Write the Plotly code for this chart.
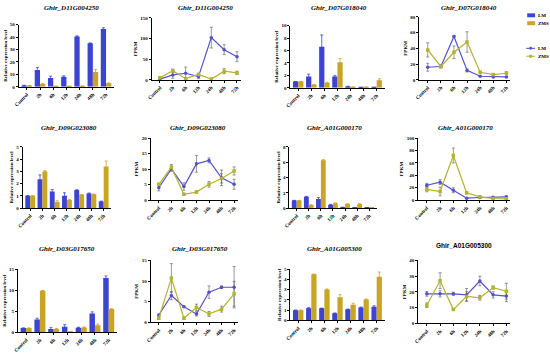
import plotly.graph_objects as go

categories = ["Control", "2h", "6h", "12h", "24h", "48h", "72h"]

titles = ["Ghir_D11G004250", "Ghir_D11G004250", "Ghir_D07G018040", "Ghir_D07G018040",
          "Ghir_D09G023080", "Ghir_D09G023080", "Ghir_A01G000170", "Ghir_A01G000170",
          "Ghir_D03G017650", "Ghir_D03G017650", "Ghir_A01G005300", "Ghir_A01G005300"]

legend_names = ["LM", "ZMS"]

# Panel 1: D11G004250 qRT-PCR (bars)
p1_lm = [1, 13.5, 7, 8, 40.5, 35, 46.5]
p1_lm_err = [0.2, 2, 1.5, 0.8, 0.5, 0.3, 1]
p1_zms = [1, 2.3, 0.3, 0.3, 0.5, 12, 2.8]
p1_zms_err = [0.1, 0.3, 0.1, 0.1, 0.1, 2, 0.3]
# Panel 2: D11G004250 FPKM (lines)
p2_lm = [2, 12, 16, 8, 102, 73, 56]
p2_lm_err = [2, 8, 15, 5, 25, 12, 12]
p2_zms = [5, 22, 3, 13, 2, 21, 17]
p2_zms_err = [2, 4, 2, 3, 1, 6, 4]
# Panel 3: D07G018040 qRT-PCR
p3_lm = [1, 1.8, 6.6, 1.8, 0.2, 0.05, 0.05]
p3_lm_err = [0, 0.4, 1.9, 0.15, 0.05, 0, 0]
p3_zms = [1, 0.5, 0.8, 4.1, 0.1, 0.1, 1.2]
p3_zms_err = [0, 0.05, 0.1, 0.6, 0, 0, 0.25]
# Panel 4: D07G018040 FPKM
p4_lm = [16, 17, 55, 12, 4.6, 3.8, 3.8]
p4_lm_err = [5, 2, 1, 2, 0.5, 0.5, 0.5]
p4_zms = [38, 17, 35, 48, 9.6, 6.7, 8.4]
p4_zms_err = [9, 1, 8, 13, 1, 1, 2]
# Panel 5: D09G023080 qRT-PCR
p5_lm = [1, 2.36, 1.36, 1.0, 1.47, 1.2, 0.54]
p5_lm_err = [0, 0.35, 0.15, 0.25, 0.02, 0.03, 0.03]
p5_zms = [1, 3.0, 0.5, 0.65, 1.08, 1.12, 3.4]
p5_zms_err = [0, 0.05, 0.1, 0.05, 0.03, 0.03, 0.45]
# Panel 6: D09G023080 FPKM
p6_lm = [4.0, 10.1, 4.4, 11.7, 12.8, 7.2, 5.1]
p6_lm_err = [1, 0.8, 1.2, 2.7, 0.8, 2.5, 1.6]
p6_zms = [5.1, 10.6, 1.9, 2.6, 5.1, 7.0, 9.4]
p6_zms_err = [0.3, 0.9, 0.3, 0.4, 0.9, 1.5, 1.3]
# Panel 7: A01G000170 qRT-PCR
p7_lm = [1, 1.48, 1.17, 0.43, 0.1, 0.08, 0.05]
p7_lm_err = [0, 0.05, 0.2, 0.05, 0, 0, 0]
p7_zms = [1, 0.4, 6.26, 0.62, 0.52, 0.52, 0.02]
p7_zms_err = [0, 0.05, 0.1, 0.05, 0.05, 0.05, 0]
# Panel 8: A01G000170 FPKM
p8_lm = [24, 29, 16, 3.2, 4.3, 4.8, 5.3]
p8_lm_err = [3, 4, 4, 1, 1, 1, 2]
p8_zms = [17.5, 14, 72, 12, 5.3, 2.7, 2.1]
p8_zms_err = [4, 7, 12, 2, 2, 1, 1]
# Panel 9: D03G017650 qRT-PCR
p9_lm = [1, 3.05, 0.8, 1.3, 1.1, 4.45, 12.9]
p9_lm_err = [0, 0.3, 0.3, 0.5, 0.1, 0.4, 0.5]
p9_zms = [1, 9.9, 0.8, 0.1, 1.15, 1.65, 5.55]
p9_zms_err = [0, 0, 0.1, 0, 0.1, 0.3, 0]
# Panel 10: D03G017650 FPKM
p10_lm = [1.8, 6.5, 3.8, 2.05, 7.3, 8.5, 8.5]
p10_lm_err = [0.2, 1, 0.2, 0.5, 1.5, 0.3, 5]
p10_zms = [1.0, 10.7, 1.0, 3.6, 2.05, 3.2, 6.9]
p10_zms_err = [0.3, 3.5, 0.3, 0.8, 0.6, 0.7, 3]
# Panel 11: A01G005300 qRT-PCR
p11_lm = [1, 1.2, 1.18, 0.7, 1.08, 1.27, 1.33]
p11_lm_err = [0, 0.05, 0.03, 0.03, 0.03, 0.03, 0.1]
p11_zms = [1, 4.5, 3.02, 2.26, 1.53, 2.04, 4.27]
p11_zms_err = [0, 0.03, 0.05, 0.25, 0.15, 0.05, 0.45]
# Panel 12: A01G005300 FPKM
p12_lm = [18.75, 18.75, 18.75, 18.1, 26.9, 18.1, 17.3]
p12_lm_err = [1.5, 2, 1, 4, 3, 2, 3.5]
p12_zms = [11.5, 27.1, 8.75, 17.1, 16.25, 22.7, 20.4]
p12_zms_err = [1.5, 5, 0.5, 3, 1.5, 1, 5]

y_max = [50, 150, 10, 80, 5, 20, 8, 100, 15, 15, 5, 40]
y_dtick = [10, 50, 2, 20, 1, 5, 2, 20, 5, 5, 1, 10]

panels = [
    (p1_lm, p1_lm_err, p1_zms, p1_zms_err), (p2_lm, p2_lm_err, p2_zms, p2_zms_err),
    (p3_lm, p3_lm_err, p3_zms, p3_zms_err), (p4_lm, p4_lm_err, p4_zms, p4_zms_err),
    (p5_lm, p5_lm_err, p5_zms, p5_zms_err), (p6_lm, p6_lm_err, p6_zms, p6_zms_err),
    (p7_lm, p7_lm_err, p7_zms, p7_zms_err), (p8_lm, p8_lm_err, p8_zms, p8_zms_err),
    (p9_lm, p9_lm_err, p9_zms, p9_zms_err), (p10_lm, p10_lm_err, p10_zms, p10_zms_err),
    (p11_lm, p11_lm_err, p11_zms, p11_zms_err), (p12_lm, p12_lm_err, p12_zms, p12_zms_err),
]

W, H = 550, 355
# pixel boxes: x0, x1, ytop, ybottom
boxes = [
    (14, 110, 23, 86), (148, 238, 16, 79), (288, 383, 24, 87), (418, 510, 15, 79),
    (18, 107, 147, 209), (147, 235, 138, 201), (287, 375, 147, 209), (417, 510, 138, 201),
    (13, 113, 271, 335), (147, 235, 262, 325), (288, 383, 271, 323), (417, 510, 262, 326),
]
title_pos = [(67, 6), (202, 6), (337, 6), (468, 6),
             (65, 128), (195, 128), (333, 128), (465, 128),
             (63, 251), (197, 251), (333, 251), (463, 247)]

BAR_LM = "#3d44d2"
BAR_ZMS = "#c9a524"
LINE_LM = "#5252cc"
LINE_ZMS = "#b5b32c"
FONT = "Liberation Serif"

fig = go.Figure()
layout = {}
annotations = []
shapes = []
for i, (lm, lme, zm, zme) in enumerate(panels):
    n = i + 1
    xa = "x" if n == 1 else f"x{n}"
    ya = "y" if n == 1 else f"y{n}"
    is_bar = (i % 2 == 0)
    if is_bar:
        fig.add_trace(go.Bar(x=categories, y=lm, xaxis=xa, yaxis=ya, name="LM",
                             marker=dict(color=BAR_LM, line=dict(width=0)),
                             error_y=dict(type="data", array=lme, color=BAR_LM, thickness=0.8, width=1.5),
                             offsetgroup="lm", showlegend=False))
        fig.add_trace(go.Bar(x=categories, y=zm, xaxis=xa, yaxis=ya, name="ZMS",
                             marker=dict(color=BAR_ZMS, line=dict(width=0)),
                             error_y=dict(type="data", array=zme, color=BAR_ZMS, thickness=0.8, width=1.5),
                             offsetgroup="zms", showlegend=False))
    else:
        fig.add_trace(go.Scatter(x=categories, y=lm, xaxis=xa, yaxis=ya, name="LM",
                                 mode="lines+markers",
                                 line=dict(color=LINE_LM, width=1.2),
                                 marker=dict(color=LINE_LM, size=3.5, symbol="circle"),
                                 error_y=dict(type="data", array=lme, color="#555555", thickness=0.6, width=1.5),
                                 showlegend=False))
        fig.add_trace(go.Scatter(x=categories, y=zm, xaxis=xa, yaxis=ya, name="ZMS",
                                 mode="lines+markers",
                                 line=dict(color=LINE_ZMS, width=1.2),
                                 marker=dict(color=LINE_ZMS, size=3.5, symbol="square"),
                                 error_y=dict(type="data", array=zme, color="#555555", thickness=0.6, width=1.5),
                                 showlegend=False))
    x0, x1, yt, yb = boxes[i]
    key = "" if n == 1 else str(n)
    layout["xaxis" + key] = dict(
        domain=[x0 / W, x1 / W], anchor=ya, type="category",
        range=[-0.6, 6.6] if is_bar else [-0.65, 6.3],
        showline=True, linecolor="black", linewidth=1, ticks="outside", ticklen=2,
        tickcolor="black", tickangle=-45, tickfont=dict(family=FONT, size=5, color="black", weight="bold"),
        showgrid=False, zeroline=False, fixedrange=True)
    layout["yaxis" + key] = dict(
        domain=[1 - yb / H, 1 - yt / H], anchor=xa, range=[0, y_max[i]], dtick=y_dtick[i],
        showline=True, linecolor="black", linewidth=1, ticks="outside", ticklen=2,
        tickcolor="black", tickfont=dict(family=FONT, size=5, color="black", weight="bold"),
        showgrid=False, zeroline=False,
        title=dict(text="Relative expression level" if is_bar else "FPKM",
                   font=dict(family=FONT, size=5, color="black", weight="bold"), standoff=2))
    tx, ty = title_pos[i]
    annotations.append(dict(text=titles[i], x=tx / W, y=1 - ty / H, xref="paper", yref="paper",
                            showarrow=False, xanchor="center", yanchor="middle",
                            font=dict(family=FONT if i < 11 else "Liberation Sans", size=7 if i < 11 else 6.5,
                                      color="black", weight="bold",
                                      style="italic" if i < 11 else "normal")))


# Legend (drawn manually, top right)
def px(x):
    return x / W


def py(y):
    return 1 - y / H


leg_bar_y = [13.5, 21.5]
leg_line_y = [47, 55]
bar_cols = [BAR_LM, BAR_ZMS]
line_cols = [LINE_LM, LINE_ZMS]
line_syms = ["circle", "square"]
for k, name in enumerate(legend_names):
    yb = leg_bar_y[k]
    shapes.append(dict(type="rect", xref="paper", yref="paper", x0=px(527), x1=px(535),
                       y0=py(yb + 2), y1=py(yb - 2), fillcolor=bar_cols[k], line=dict(width=0)))
    annotations.append(dict(text=name, x=px(537), y=py(yb), xref="paper", yref="paper",
                            showarrow=False, xanchor="left", yanchor="middle", borderpad=0,
                            font=dict(family=FONT, size=5, color="black", weight="bold")))
    yl = leg_line_y[k]
    shapes.append(dict(type="line", xref="paper", yref="paper", x0=px(526), x1=px(535),
                       y0=py(yl), y1=py(yl), line=dict(color=line_cols[k], width=1)))
    shapes.append(dict(type="circle" if line_syms[k] == "circle" else "rect",
                       xref="paper", yref="paper", x0=px(529), x1=px(532),
                       y0=py(yl + 1.5), y1=py(yl - 1.5), fillcolor=line_cols[k], line=dict(width=0)))
    annotations.append(dict(text=name, x=px(537), y=py(yl), xref="paper", yref="paper",
                            showarrow=False, xanchor="left", yanchor="middle", borderpad=0,
                            font=dict(family=FONT, size=5, color="black", weight="bold")))

fig.update_layout(
    width=W, height=H, margin=dict(l=0, r=0, t=0, b=0),
    paper_bgcolor="white", plot_bgcolor="white",
    barmode="group", bargap=0.2, bargroupgap=0.0,
    annotations=annotations, shapes=shapes, showlegend=False,
    **layout,
)

fig.write_html("out.html", config={"displayModeBar": False},
               post_script="document.body.style.margin='0';document.body.style.overflow='hidden';")
